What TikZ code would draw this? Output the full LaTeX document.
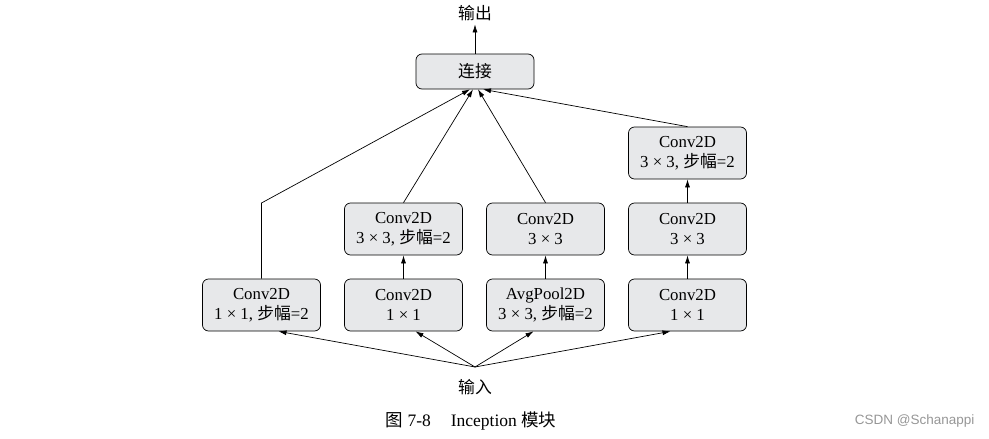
\documentclass[tikz,border=0pt]{standalone}
\usepackage{fontspec}
\setmainfont{Liberation Serif}
\newfontfamily\cjk{Noto Sans CJK SC}
\newfontfamily\wmfont{Liberation Sans}
\usepackage{tikz}
\usetikzlibrary{positioning, arrows.meta}
\definecolor{boxgray}{RGB}{231,232,234}
\definecolor{wmgray}{RGB}{150,150,150}
\newcommand{\zh}[1]{{\cjk #1}}

\begin{document}
\begin{tikzpicture}[-{Latex[length=8pt,width=5pt]}, x=1pt, y=-1pt, node distance = 76pt and 142pt, on grid, line width=0.7pt,
		layer/.style={rectangle, rounded corners=6pt, fill=boxgray, draw=black, minimum width=118pt, minimum height=52pt, align=center, font=\fontsize{16.8}{20}\selectfont},
		label/.style={font=\fontsize{16.8}{20}\selectfont}]
			\useasboundingbox (0,0) rectangle (989,439);
			\node [layer] (B1) at (261.5,305) {Conv2D\\1 × 1, \zh{步幅}=2};
			\node [layer] (B2) [right =of B1] {Conv2D\\1 × 1};
			\node [layer] (B3) [right =of B2] {AvgPool2D\\3 × 3, \zh{步幅}=2};
			\node [layer] (B4) [right =of B3] {Conv2D\\1 × 1};
			\node [layer] (M2) [above =of B2] {Conv2D\\3 × 3, \zh{步幅}=2};
			\node [layer] (M3) [above =of B3] {Conv2D\\3 × 3};
			\node [layer] (M4) [above =of B4] {Conv2D\\3 × 3};
			\node [layer] (T4) [above =of M4] {Conv2D\\3 × 3, \zh{步幅}=2};
			\node [layer, minimum height=35pt] (CONCAT) at (475,71.5) {\zh{连接}};
			\node [label] (OUT) at (475,13) {\zh{输出}};
			\node [label] (IN) at (475,387) {\zh{输入}};
			\coordinate (FORK) at (475,367);
			\coordinate (BEND) at (261.5,203);
			% input fan-out
			\path (FORK) edge ([xshift=17pt]B1.south);
			\path (FORK) edge ([xshift=12pt]B2.south);
			\path (FORK) edge ([xshift=-12pt]B3.south);
			\path (FORK) edge ([xshift=-17pt]B4.south);
			% columns
			\path (B2) edge (M2);
			\path (B3) edge (M3);
			\path (B4) edge (M4);
			\path (M4) edge (T4);
			% into concat
			\draw (B1.north) -- (BEND) -- ([xshift=-5pt]CONCAT.south);
			\path (M2.north) edge ([xshift=-2pt]CONCAT.south);
			\path (M3.north) edge ([xshift=3pt]CONCAT.south);
			\path (T4.north) edge ([xshift=8pt]CONCAT.south);
			\path (CONCAT) edge (OUT);
			% caption
			\node [anchor=west, font=\fontsize{17.5}{20}\selectfont] (CAP) at (382,421) {\zh{图} 7-8\hspace{20pt}Inception \zh{模块}};
			\node [anchor=east, text=wmgray, font=\wmfont\fontsize{13.5}{15}\selectfont] (WM) at (978,421) {CSDN @Schanappi};
		\end{tikzpicture}
\end{document}
